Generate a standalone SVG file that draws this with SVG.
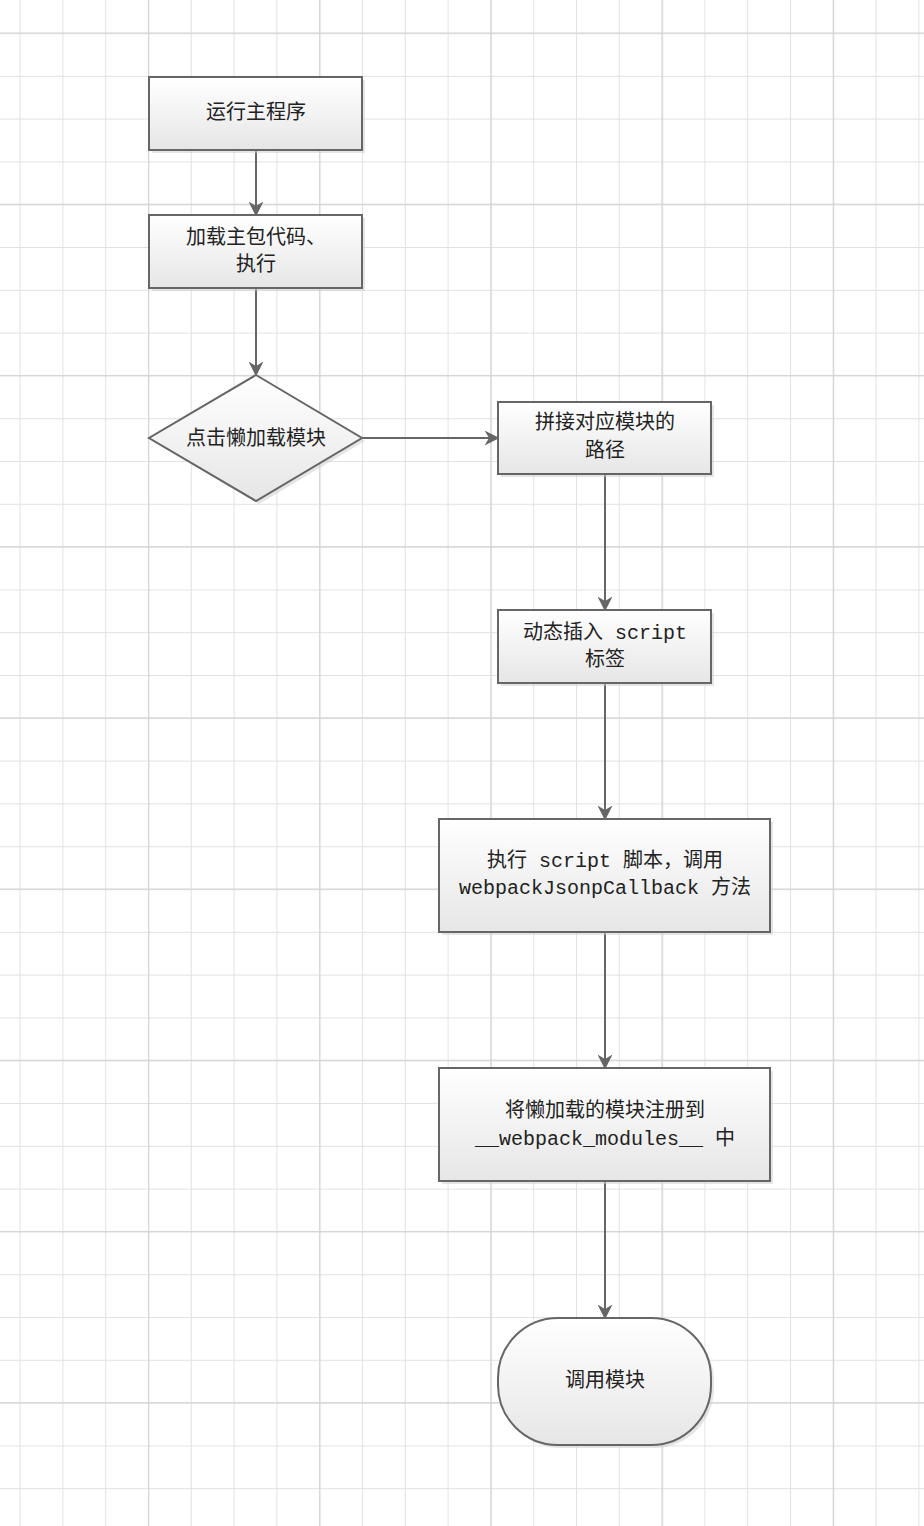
<svg xmlns="http://www.w3.org/2000/svg" width="924" height="1526" viewBox="0 0 924 1526">
<defs>
<pattern id="minor" width="42.8" height="42.8" patternUnits="userSpaceOnUse" x="19.6" y="-9.8">
<path d="M0 0V42.8M0 0H42.8" fill="none" stroke="#e2e2e2" stroke-width="2"/>
</pattern>
<pattern id="major" width="171.2" height="171.2" patternUnits="userSpaceOnUse" x="148" y="32.5">
<path d="M0 0V171.2M0 0H171.2" fill="none" stroke="#d4d4d4" stroke-width="2.5"/>
</pattern>
<linearGradient id="g" x1="0" y1="0" x2="0" y2="1">
<stop offset="0" stop-color="#ffffff"/><stop offset="1" stop-color="#e6e6e6"/>
</linearGradient>
<marker id="arr" viewBox="0 0 10 10" refX="9" refY="5" markerWidth="15" markerHeight="15" markerUnits="userSpaceOnUse" orient="auto">
<path d="M0 0L10 5L0 10L3 5Z" fill="#666"/>
</marker>
<style>
.n{fill:url(#g);stroke:#666;stroke-width:2}
.s{fill:#ccc;opacity:.5}
.t{font-family:"Liberation Mono","Noto Sans CJK SC",monospace;font-size:20px;fill:#222;text-anchor:middle}
.c{stroke:#666;stroke-width:2;fill:none;marker-end:url(#arr)}
</style>
</defs>
<rect width="924" height="1526" fill="#fff"/>
<rect width="924" height="1526" fill="url(#minor)"/>
<rect width="924" height="1526" fill="url(#major)"/>
<g id="connectors">
<path class="c" d="M256 150V215"/>
<path class="c" d="M256 288V375"/>
<path class="c" d="M362 438H498"/>
<path class="c" d="M605 474V610"/>
<path class="c" d="M605 683V819"/>
<path class="c" d="M605 932V1068"/>
<path class="c" d="M605 1181V1318"/>
</g>
<g id="n1"><rect class="s" x="152" y="80" width="213" height="73"/><rect class="n" x="149" y="77" width="213" height="73"/><text class="t" x="256" y="119">运行主程序</text></g>
<g id="n2"><rect class="s" x="152" y="218" width="213" height="73"/><rect class="n" x="149" y="215" width="213" height="73"/><text class="t" x="256" y="244">加载主包代码、</text><text class="t" x="256" y="271">执行</text></g>
<g id="n3"><path class="s" d="M259 378L365 441L259 504L152 441Z"/><path class="n" d="M256 375L362 438L256 501L149 438Z"/><text class="t" x="256" y="445">点击懒加载模块</text></g>
<g id="n4"><rect class="s" x="501" y="405" width="213" height="72"/><rect class="n" x="498" y="402" width="213" height="72"/><text class="t" x="605" y="429">拼接对应模块的</text><text class="t" x="605" y="457">路径</text></g>
<g id="n5"><rect class="s" x="501" y="613" width="213" height="73"/><rect class="n" x="498" y="610" width="213" height="73"/><text class="t" x="605" y="639">动态插入 script</text><text class="t" x="605" y="666">标签</text></g>
<g id="n6"><rect class="s" x="442" y="822" width="331" height="113"/><rect class="n" x="439" y="819" width="331" height="113"/><text class="t" x="605" y="867">执行 script 脚本，调用</text><text class="t" x="605" y="894" font-size="19">webpackJsonpCallback 方法</text></g>
<g id="n7"><rect class="s" x="442" y="1071" width="331" height="113"/><rect class="n" x="439" y="1068" width="331" height="113"/><text class="t" x="605" y="1117">将懒加载的模块注册到</text><text class="t" x="605" y="1145">__webpack_modules__ 中</text></g>
<g id="n8"><rect class="s" x="501" y="1321" width="213" height="127" rx="60"/><rect class="n" x="498" y="1318" width="213" height="127" rx="60"/><text class="t" x="605" y="1387">调用模块</text></g>
</svg>
